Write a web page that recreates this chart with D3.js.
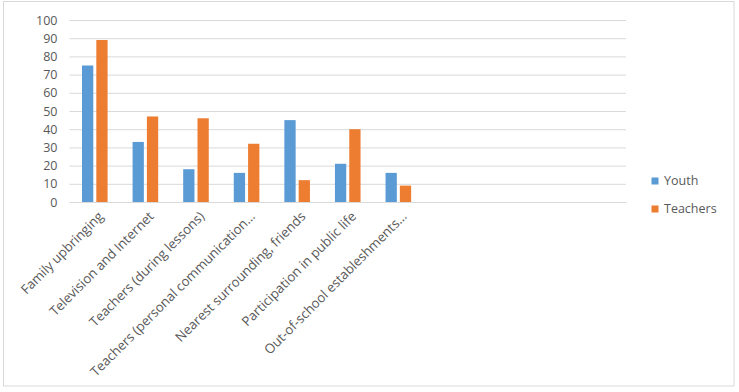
<!DOCTYPE html>
<html>
<head>
<meta charset="utf-8">
<script src="https://cdn.jsdelivr.net/npm/d3@7"></script>
<style>
  html, body { margin: 0; padding: 0; background: #fff; }
  svg { display: block; font-family: "Open Sans", "Noto Sans", sans-serif; }
</style>
</head>
<body>
<svg id="chart" width="739" height="392"></svg>
<script>
const categories = [
  "Family upbringing",
  "Television and Internet",
  "Teachers (during lessons)",
  "Teachers (personal communication…",
  "Nearest surrounding, friends",
  "Participation in public life",
  "Out-of-school estableshments…",
  "", "", "", ""
];
const youth    = [75, 33, 18, 16, 45, 21, 16, null, null, null, null];
const teachers = [89, 47, 46, 32, 12, 40, 9, null, null, null, null];
const seriesNames = ["Youth", "Teachers"];
const seriesColors = ["#5b9bd5", "#ed7d31"];
const yTicks = [0, 10, 20, 30, 40, 50, 60, 70, 80, 90, 100];

const svg = d3.select("#chart");
const W = 739, H = 392;
const margin = { left: 69.5, right: 113, top: 20, bottom: 190 };

// chart border
svg.append("rect")
  .attr("x", 3.5).attr("y", 1.5)
  .attr("width", 730.5).attr("height", 384.5)
  .attr("fill", "#fff").attr("stroke", "#d9d9d9");

const x = d3.scaleBand()
  .domain(d3.range(categories.length))
  .range([margin.left, W - margin.right])
  .paddingInner(0).paddingOuter(0);

const y = d3.scaleLinear().domain([0, 100]).range([H - margin.bottom, margin.top]);

// gridlines
const grid = d3.axisLeft(y).tickValues(yTicks).tickSize(-(x.range()[1] - x.range()[0])).tickFormat("");
const gg = svg.append("g").attr("transform", `translate(${margin.left},0)`).call(grid);
gg.select(".domain").remove();
gg.selectAll("line").attr("stroke", "#d9d9d9").attr("stroke-width", 1);

// y labels
const ya = d3.axisLeft(y).tickValues(yTicks).tickSize(0).tickPadding(12);
const yg = svg.append("g").attr("transform", `translate(${margin.left},0)`).call(ya);
yg.select(".domain").remove();
yg.selectAll("text").attr("fill", "#595959").style("font-size", "12.5px")
  .style("font-family", "'Open Sans', sans-serif");

// bars
const bw = x.bandwidth() * 0.223;
const gap = x.bandwidth() * 0.06;
const sub = d3.scaleOrdinal().domain([0, 1]).range([-(bw + gap / 2), gap / 2]);
[youth, teachers].forEach((vals, si) => {
  svg.append("g").selectAll("rect")
    .data(vals.map((v, i) => ({ v, i })).filter(d => d.v != null))
    .join("rect")
    .attr("x", d => x(d.i) + x.bandwidth() / 2 + sub(si))
    .attr("y", d => y(d.v))
    .attr("width", bw)
    .attr("height", d => y(0) - y(d.v))
    .attr("fill", seriesColors[si]);
});

// x axis
const xa = d3.axisBottom(x).tickSize(0).tickFormat(i => categories[i]);
const xg = svg.append("g").attr("transform", `translate(0,${y(0)})`).call(xa);
xg.select(".domain").attr("stroke", "#d9d9d9");
xg.selectAll("text")
  .attr("fill", "#595959")
  .style("font-size", "13.2px")
  .style("font-family", "'Open Sans', sans-serif")
  .attr("text-anchor", "end")
  .attr("dy", "0.35em")
  .attr("transform", "translate(6,12) rotate(-45)")
  .attr("y", 0).attr("x", 0);

// legend
const lg = svg.append("g");
seriesNames.forEach((n, i) => {
  const yy = 185 + i * 28;
  lg.append("rect").attr("x", 651.5).attr("y", yy - 7.5).attr("width", 7).attr("height", 7)
    .attr("fill", seriesColors[i]);
  lg.append("text").attr("x", 664).attr("y", yy).text(n)
    .attr("fill", "#595959").style("font-size", "12.5px");
});
</script>
</body>
</html>
